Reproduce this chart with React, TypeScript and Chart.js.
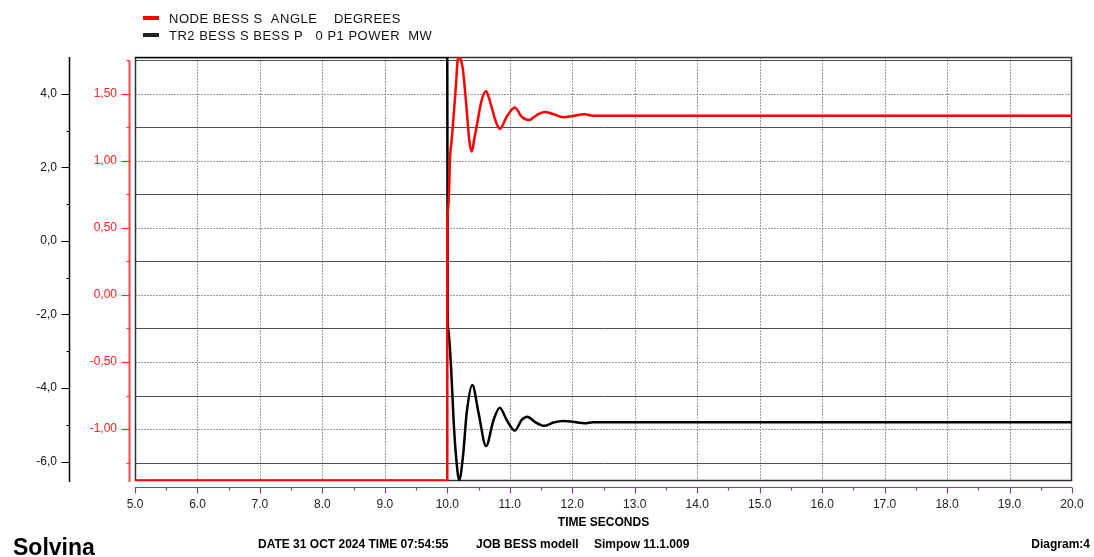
import { useEffect, useRef } from 'react';
import { Chart, registerables } from 'chart.js';

Chart.register(...registerables);

// ---- data ----
const legendLabels = ['NODE BESS S  ANGLE    DEGREES', 'TR2 BESS S BESS P   0 P1 POWER  MW'];
const seriesColors = ['#ff0000', '#000000'];

const angleTimes = [5.0, 9.999, 10.0, 10.01, 10.03, 10.04, 10.07, 10.10, 10.14, 10.165,
  10.19, 10.22, 10.25, 10.31, 10.35, 10.39, 10.43, 10.47, 10.55, 10.62,
  10.66, 10.71, 10.78, 10.84, 10.95, 11.08, 11.19, 11.31, 11.43, 11.56,
  11.69, 11.86, 12.01, 12.20, 12.33, 20.0];
const angleValues = [-1.385, -1.385, 0.54, 0.62, 0.81, 0.99, 1.16, 1.33, 1.58, 1.75,
  1.776, 1.75, 1.68, 1.38, 1.16, 1.07, 1.16, 1.26, 1.455, 1.52,
  1.48, 1.40, 1.29, 1.24, 1.33, 1.40, 1.33, 1.306, 1.343, 1.366,
  1.351, 1.326, 1.336, 1.349, 1.338, 1.338];

const powerTimes = [5.0, 9.999, 10.005, 10.015, 10.04, 10.07, 10.10, 10.14, 10.19, 10.25,
  10.31, 10.40, 10.50, 10.62, 10.74, 10.84, 10.95, 11.08, 11.19, 11.28,
  11.40, 11.55, 11.70, 11.86, 12.01, 12.20, 12.33, 20.0];
const powerValues = [5.0, 5.0, -1.92, -2.42, -2.88, -3.78, -4.87, -5.87, -6.50, -5.87,
  -4.68, -3.92, -4.68, -5.58, -4.87, -4.54, -4.87, -5.16, -4.87, -4.78,
  -4.92, -5.03, -4.94, -4.90, -4.92, -4.96, -4.93, -4.93];

const timeRange = [5, 20];
const angleRange = [-1.388, 1.776];
const powerRange = [-6.53, 5.0];

const xAxisTitle = 'TIME SECONDS';
const footerBrand = 'Solvina';
const footerInfo = ['DATE 31 OCT 2024 TIME 07:54:55', 'JOB BESS modell', 'Simpow 11.1.009'];
const footerDiagram = 'Diagram:4';

const FONT = '"Liberation Sans", Arial, sans-serif';

const decorPlugin = {
  id: 'decor',
  beforeDatasetsDraw(chart: any) {
    const { ctx, chartArea: a, scales } = chart;
    const xs = scales.x, yR = scales.yR, yB = scales.yB;
    ctx.save();
    // vertical grid
    ctx.lineWidth = 1;
    ctx.strokeStyle = '#9c9c9c';
    ctx.setLineDash([2, 1]);
    for (let t = timeRange[0] + 1; t < timeRange[1]; t++) {
      const px = Math.round(xs.getPixelForValue(t)) + 0.5;
      ctx.beginPath(); ctx.moveTo(px, a.top); ctx.lineTo(px, a.bottom); ctx.stroke();
    }
    // horizontal grid on red axis ticks
    for (let k = -5; k <= 7; k++) {
      const v = k * 0.25;
      const py = Math.round(yR.getPixelForValue(v)) + 0.5;
      if (k % 2 === 0) { ctx.setLineDash([2, 1]); ctx.strokeStyle = '#9c9c9c'; }
      else { ctx.setLineDash([]); ctx.strokeStyle = '#505050'; }
      ctx.beginPath(); ctx.moveTo(a.left, py); ctx.lineTo(a.right, py); ctx.stroke();
    }
    ctx.setLineDash([]);
    // frame
    ctx.strokeStyle = '#303030';
    ctx.lineWidth = 1.5;
    ctx.strokeRect(a.left + 0.5, a.top + 0.5, a.right - a.left - 1, a.bottom - a.top - 1);

    // black axis
    const bx = yB.right + 0.5;
    ctx.strokeStyle = '#000';
    ctx.lineWidth = 1.5;
    ctx.beginPath(); ctx.moveTo(bx, a.top); ctx.lineTo(bx, a.bottom + 1); ctx.stroke();
    ctx.lineWidth = 1;
    for (let v = -6; v <= 4; v++) {
      const py = Math.round(yB.getPixelForValue(v)) + 0.5;
      const len = v % 2 === 0 ? 8 : 3;
      ctx.beginPath(); ctx.moveTo(bx - len, py); ctx.lineTo(bx, py); ctx.stroke();
    }
    // red axis
    const rx = a.left - 5.5;
    ctx.strokeStyle = '#ff4a4a';
    ctx.lineWidth = 2;
    ctx.beginPath(); ctx.moveTo(rx, yR.getPixelForValue(1.75)); ctx.lineTo(rx, a.bottom + 1); ctx.stroke();
    ctx.lineWidth = 1.2;
    ctx.strokeStyle = '#ff2a2a';
    for (let k = -5; k <= 7; k++) {
      const py = Math.round(yR.getPixelForValue(k * 0.25)) + 0.5;
      const len = k % 2 === 0 ? 8 : 3;
      ctx.beginPath(); ctx.moveTo(rx - len, py); ctx.lineTo(rx, py); ctx.stroke();
    }
    // x axis (purple) below the plot
    const ay = a.bottom + 6.5;
    ctx.strokeStyle = '#6e4a80';
    ctx.lineWidth = 1.2;
    ctx.beginPath(); ctx.moveTo(a.left, ay); ctx.lineTo(a.right, ay); ctx.stroke();
    for (let t = timeRange[0]; t <= timeRange[1] + 1e-9; t += 0.5) {
      const px = Math.round(xs.getPixelForValue(t)) + 0.5;
      const len = Number.isInteger(t) ? 6 : 3;
      ctx.beginPath(); ctx.moveTo(px, ay); ctx.lineTo(px, ay + len); ctx.stroke();
    }
    ctx.restore();
  },
  afterDraw(chart: any) {
    const { ctx, chartArea: a } = chart;
    ctx.save();
    // legend
    ctx.textBaseline = 'middle';
    ctx.textAlign = 'left';
    ctx.font = `13px ${FONT}`;
    try { (ctx as any).letterSpacing = '0.5px'; } catch (e) {}
    legendLabels.forEach((lab, i) => {
      const y = 18 + i * 17;
      ctx.fillStyle = seriesColors[i] === '#000000' ? '#222' : seriesColors[i];
      ctx.fillRect(143, y - 2, 16, 4);
      ctx.fillStyle = '#111';
      ctx.fillText(lab, 169, y + 1);
    });
    try { (ctx as any).letterSpacing = '0px'; } catch (e) {}
    // axis title
    ctx.fillStyle = '#000';
    ctx.font = `bold 12px ${FONT}`;
    ctx.textAlign = 'center';
    ctx.fillText(xAxisTitle, (a.left + a.right) / 2, 523);
    // footer
    ctx.textAlign = 'left';
    ctx.font = `bold 23px ${FONT}`;
    ctx.fillText(footerBrand, 13, 549);
    ctx.font = `bold 12px ${FONT}`;
    ctx.fillText(footerInfo[0], 258, 545);
    ctx.fillText(footerInfo[1], 476, 545);
    ctx.fillText(footerInfo[2], 594, 545);
    ctx.textAlign = 'right';
    ctx.fillText(footerDiagram, 1090, 545);
    ctx.restore();
  },
};

export default function App() {
  const ref = useRef<HTMLCanvasElement | null>(null);
  useEffect(() => {
    if (!ref.current) return;
    const chart = new Chart(ref.current, {
      type: 'line',
      data: {
        datasets: [
          {
            label: legendLabels[0],
            data: angleTimes.map((t, i) => ({ x: t, y: angleValues[i] })),
            borderColor: seriesColors[0],
            borderWidth: 2.5,
            pointRadius: 0,
            cubicInterpolationMode: 'monotone',
            yAxisID: 'yR',
          },
          {
            label: legendLabels[1],
            data: powerTimes.map((t, i) => ({ x: t, y: powerValues[i] })),
            borderColor: seriesColors[1],
            borderWidth: 2.5,
            pointRadius: 0,
            cubicInterpolationMode: 'monotone',
            yAxisID: 'yB',
          },
        ],
      },
      options: {
        animation: false,
        responsive: false,
        maintainAspectRatio: false,
        parsing: false as any,
        layout: { padding: { top: 57, right: 22, left: 0, bottom: 0 } },
        plugins: { legend: { display: false }, tooltip: { enabled: false } },
        scales: {
          x: {
            type: 'linear',
            position: 'bottom',
            min: timeRange[0],
            max: timeRange[1],
            grid: { display: false, drawTicks: false },
            border: { display: false },
            afterFit: (s: any) => { s.height = 76; s.paddingLeft = 0; s.paddingRight = 0; },
            ticks: {
              stepSize: 0.5,
              autoSkip: false,
              maxRotation: 0,
              padding: 16,
              color: '#222',
              font: { family: FONT, size: 12 },
              callback: (v: any) => (Number.isInteger(v) ? Number(v).toFixed(1) : ''),
            },
          },
          yB: {
            type: 'linear',
            position: 'left',
            weight: 2,
            min: powerRange[0],
            max: powerRange[1],
            grid: { display: false, drawTicks: false },
            border: { display: false },
            afterFit: (s: any) => { s.width = 69; s.paddingTop = 0; s.paddingBottom = 0; },
            ticks: {
              stepSize: 1,
              autoSkip: false,
              includeBounds: false,
              padding: 12,
              color: '#111',
              font: { family: FONT, size: 12 },
              callback: (v: any) => (Math.round(v) % 2 === 0 ? Number(v).toFixed(1).replace('.', ',') : ''),
            },
          },
          yR: {
            type: 'linear',
            position: 'left',
            weight: 1,
            min: angleRange[0],
            max: angleRange[1],
            grid: { display: false, drawTicks: false },
            border: { display: false },
            afterFit: (s: any) => { s.width = 66; s.paddingTop = 0; s.paddingBottom = 0; },
            ticks: {
              stepSize: 0.25,
              autoSkip: false,
              includeBounds: false,
              padding: 18,
              color: '#ff2020',
              font: { family: FONT, size: 12 },
              callback: (v: any) => {
                const d = v * 2;
                return Math.abs(d - Math.round(d)) < 1e-6 ? Math.abs(v) < 1e-9 ? '0,00' : Number(v).toFixed(2).replace('.', ',') : '';
              },
            },
          },
        },
      } as any,
      plugins: [decorPlugin],
    });
    return () => chart.destroy();
  }, []);
  return (
    <div style={{ position: 'absolute', left: 0, top: 0, width: 1094, height: 557, background: '#fff' }}>
      <canvas ref={ref} width={1094} height={557} />
    </div>
  );
}
